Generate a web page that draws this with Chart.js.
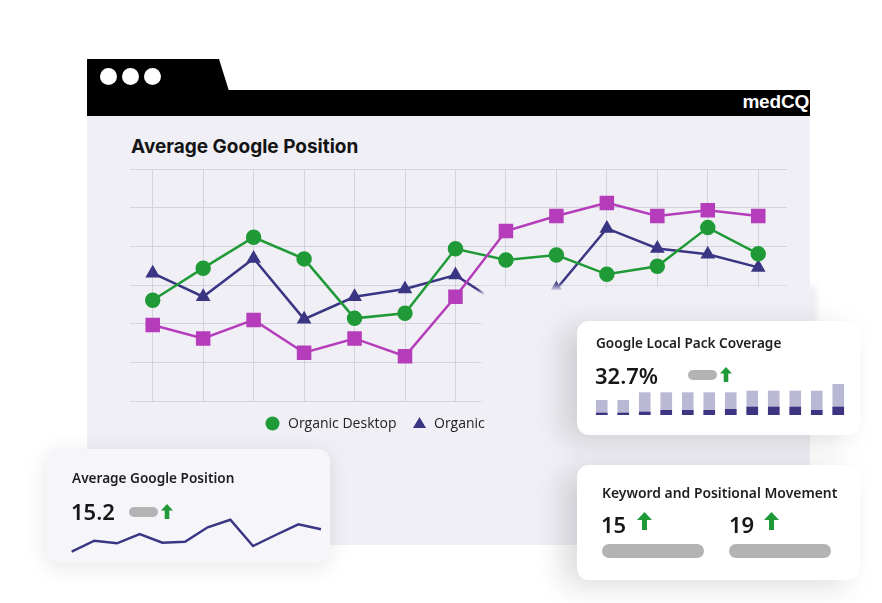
<!DOCTYPE html>
<html>
<head>
<meta charset="utf-8">
<script src="https://cdn.jsdelivr.net/npm/chart.js@4.4.1/dist/chart.umd.min.js"></script>
<style>
  html, body { margin: 0; padding: 0; background: #ffffff; }
  body { width: 882px; height: 603px; position: relative; overflow: hidden; font-family: "Noto Sans", "Open Sans", sans-serif; color: #1c1c1e; }
  .abs { position: absolute; }
  #tab { left: 87px; top: 59px; width: 160px; height: 32px; background: #000; clip-path: polygon(0 0, 132px 0, 142px 100%, 0 100%); }
  #bar { left: 87px; top: 90px; width: 723px; height: 26px; background: #000; }
  .dot { width: 17px; height: 17px; border-radius: 50%; background: #fff; top: 68px; }
  #brand { right: 73px; top: 91px; color: #fff; font-family: "Liberation Sans", Arial, sans-serif; font-weight: 700; font-size: 19px; line-height: 22px; letter-spacing: -0.2px; }
  #panel { left: 87px; top: 116px; width: 723px; height: 429px; background: #efeff5; }
  #title { left: 131px; top: 134px; font-family: "Inter", sans-serif; font-weight: 700; font-size: 19px; line-height: 26px; color: #141414; letter-spacing: 0px; }
  #mainWrap { left: 87px; top: 115px; width: 723px; height: 310px; }
  #cover { left: 484px; top: 290px; width: 330px; height: 116px; background: #efeff5; box-shadow: 0 0 6px 3px #efeff5; }
  .legend { top: 413px; font-family: "Open Sans", sans-serif; font-weight: 500; font-size: 14px; line-height: 20px; color: #222; display: flex; align-items: center; }
  .card { background: #fff; border-radius: 12px; }
  .ctitle { font-weight: 600; font-size: 13.6px; line-height: 18px; color: #1e1e1e; }
  .big { font-weight: 600; font-size: 22px; line-height: 28px; color: #161616; }
  .pill { background: #b3b3b3; border-radius: 6px; }
</style>
</head>
<body>
<div id="panel" class="abs"></div>
<div id="tab" class="abs"></div>
<div id="bar" class="abs"></div>
<div class="abs dot" style="left:100px"></div>
<div class="abs dot" style="left:122px"></div>
<div class="abs dot" style="left:144px"></div>
<div id="brand" class="abs">medCQ</div>
<div id="title" class="abs">Average Google Position</div>
<div id="mainWrap" class="abs"><canvas id="main" width="723" height="310"></canvas></div>
<div id="cover" class="abs"></div>

<div class="abs legend" style="left:265px;">
  <svg width="15" height="15" style="margin-right:8px"><circle cx="7.5" cy="7.5" r="7" fill="#1f9a36"/></svg>Organic Desktop
</div>
<div class="abs legend" style="left:413px;">
  <svg width="13" height="12" style="margin-right:8px"><polygon points="6.5,0 13,11 0,11" fill="#3b3683"/></svg>Organic
</div>

<!-- Local pack card -->
<div class="abs card" style="left:577px; top:321px; width:283px; height:114px; box-shadow:-14px 6px 30px rgba(0,0,0,0.14);"></div>
<div class="abs ctitle" style="left:596px; top:334px;">Google Local Pack Coverage</div>
<div class="abs big" style="left:595px; top:361px;">32.7%</div>
<div class="abs pill" style="left:688px; top:370px; width:29px; height:10px;"></div>
<svg class="abs" style="left:720px; top:367px;" width="12" height="15"><polygon points="6,0 12,6.5 8.3,6.5 8.3,15 3.7,15 3.7,6.5 0,6.5" fill="#1f9a36"/></svg>
<div class="abs" style="left:587px; top:378px; width:268px; height:39px;"><canvas id="bars" width="268" height="39"></canvas></div>

<!-- Keyword card -->
<div class="abs card" style="left:577px; top:465px; width:283px; height:115px; box-shadow:-14px 6px 30px rgba(0,0,0,0.14);"></div>
<div class="abs ctitle" style="left:602px; top:484px; font-size:13.9px;">Keyword and Positional Movement</div>
<div class="abs big" style="left:601px; top:510px;">15</div>
<svg class="abs" style="left:637px; top:512px;" width="15" height="18"><polygon points="7.5,0 15,8 10,8 10,18 5,18 5,8 0,8" fill="#1f9a36"/></svg>
<div class="abs pill" style="left:602px; top:544px; width:102px; height:14px; border-radius:7px;"></div>
<div class="abs big" style="left:729px; top:510px;">19</div>
<svg class="abs" style="left:764px; top:512px;" width="15" height="18"><polygon points="7.5,0 15,8 10,8 10,18 5,18 5,8 0,8" fill="#1f9a36"/></svg>
<div class="abs pill" style="left:729px; top:544px; width:102px; height:14px; border-radius:7px;"></div>

<!-- Left card -->
<div class="abs card" style="left:46px; top:449px; width:284px; height:114px; background:#f6f6fa; box-shadow:0 4px 22px rgba(0,0,0,0.10);"></div>
<div class="abs ctitle" style="left:72px; top:469px;">Average Google Position</div>
<div class="abs big" style="left:71px; top:497px;">15.2</div>
<div class="abs pill" style="left:129px; top:507px; width:29px; height:10px;"></div>
<svg class="abs" style="left:161px; top:504px;" width="12" height="15"><polygon points="6,0 12,6.5 8.3,6.5 8.3,15 3.7,15 3.7,6.5 0,6.5" fill="#1f9a36"/></svg>
<div class="abs" style="left:66px; top:512px; width:262px; height:46px;"><canvas id="spark" width="262" height="46"></canvas></div>

<script>
// ---- main chart data ----
const weeks = ['W1','W2','W3','W4','W5','W6','W7','W8','W9','W10','W11','W12','W13'];
const organicDesktop = [26.1, 34.4, 42.4, 36.8, 21.4, 22.7, 39.4, 36.5, 37.8, 32.8, 34.9, 44.9, 38.1];
const organic        = [33.1, 27.0, 36.9, 21.2, 27.0, 29.0, 32.6, 24.1, 29.0, 44.7, 39.5, 38.0, 34.6];
const organicMobile  = [19.7, 16.2, 21.0, 12.5, 16.2, 11.6, 27.0, 44.0, 47.9, 51.3, 47.9, 49.4, 47.9];
const yTicks = [0, 10, 20, 30, 40, 50, 60];

// ---- mini cards data ----
const sparkLabels = ['1','2','3','4','5','6','7','8','9','10','11','12'];
const avgPosition = [4.3, 15.3, 12.7, 22.0, 13.3, 14.3, 28.7, 36.3, 10.0, 21.0, 31.7, 26.7];
const packLabels = ['1','2','3','4','5','6','7','8','9','10','11','12'];
const packTotal = [15, 15, 22.7, 22.7, 22.7, 22.7, 22.7, 24.3, 24.3, 24.3, 24.3, 31];
const packCovered = [2.3, 2.3, 3.3, 5, 5, 5, 6, 8.3, 8.3, 8.3, 5, 8.3];

const toXY = arr => arr.map((v, i) => ({ x: i, y: v }));

new Chart(document.getElementById('main'), {
  type: 'line',
  data: {
    datasets: [
      { label: 'Organic Desktop', data: toXY(organicDesktop), borderColor: '#1f9a36', backgroundColor: '#1f9a36',
        pointStyle: 'circle', pointRadius: 6.5, borderWidth: 2.5, order: 1 },
      { label: 'Organic', data: toXY(organic), borderColor: '#3b3683', backgroundColor: '#3b3683',
        pointStyle: 'triangle', pointRadius: 6, borderWidth: 2.5, order: 2 },
      { label: 'Organic Mobile', data: toXY(organicMobile), borderColor: '#b53cba', backgroundColor: '#b53cba',
        pointStyle: 'rect', pointRadius: 8.5, borderWidth: 2.5, order: 0 }
    ]
  },
  options: {
    responsive: false, animation: false,
    layout: { padding: { left: 43, right: 23, top: 54.3, bottom: 24 } },
    plugins: { legend: { display: false }, tooltip: { enabled: false } },
    elements: { line: { tension: 0 }, point: { borderWidth: 0 } },
    scales: {
      x: { type: 'linear', min: -0.45, max: weeks.length - 1 + 0.57,
           ticks: { display: false, stepSize: 1 },
           afterBuildTicks: ax => { ax.ticks = weeks.map((w, i) => ({ value: i })); },
           grid: { color: '#d3d3dc', lineWidth: 1, drawTicks: false }, border: { display: false } },
      y: { min: yTicks[0], max: yTicks[yTicks.length - 1],
           ticks: { display: false, stepSize: 10 },
           afterBuildTicks: ax => { ax.ticks = yTicks.map(v => ({ value: v })); },
           grid: { color: '#d3d3dc', lineWidth: 1, drawTicks: false }, border: { display: false } }
    }
  }
});

new Chart(document.getElementById('spark'), {
  type: 'line',
  data: { labels: sparkLabels, datasets: [{ data: avgPosition, borderColor: '#3b3683', borderWidth: 2.5, pointRadius: 0, tension: 0 }] },
  options: {
    responsive: false, animation: false,
    layout: { padding: { left: 5.7, right: 7, top: 4, bottom: 2 } },
    plugins: { legend: { display: false }, tooltip: { enabled: false } },
    scales: { x: { display: false }, y: { display: false, min: 0, max: 40 } }
  }
});

new Chart(document.getElementById('bars'), {
  type: 'bar',
  data: { labels: packLabels, datasets: [
    { data: packCovered, backgroundColor: '#3d3582', grouped: false, order: 0, barPercentage: 0.54, categoryPercentage: 1 },
    { data: packTotal, backgroundColor: '#b9b8d5', grouped: false, order: 1, barPercentage: 0.54, categoryPercentage: 1 }
  ] },
  options: {
    responsive: false, animation: false,
    layout: { padding: { left: 4, right: 6, top: 2, bottom: 2 } },
    plugins: { legend: { display: false }, tooltip: { enabled: false } },
    scales: { x: { display: false, offset: true }, y: { display: false, min: 0, max: 35 } }
  }
});
</script>
</body>
</html>
